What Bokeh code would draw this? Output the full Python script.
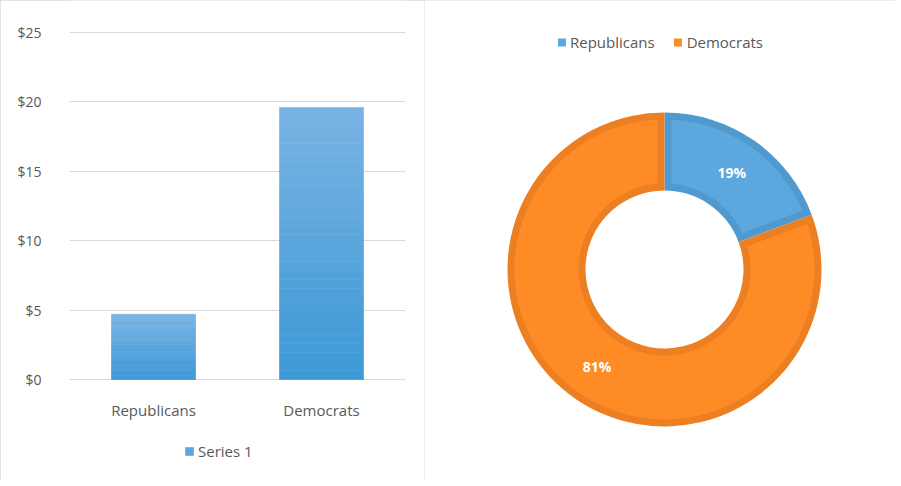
import numpy as np
from bokeh.plotting import figure
from bokeh.models import (ColumnDataSource, Range1d, FactorRange, NumeralTickFormatter,
                          FixedTicker, Legend, LegendItem)
from bokeh.layouts import row
from bokeh.embed import file_html
from bokeh.resources import INLINE
from bokeh.core.properties import value

# ---------------- data ----------------
categories = ["Republicans", "Democrats"]
amounts = [4.7, 19.6]
y_ticks = [0, 5, 10, 15, 20, 25]
series_name = "Series 1"
slice_colors = ["#5BA7DE", "#FF8B26"]
slice_edges = ["#4F99CF", "#EC7F22"]

FONT = "Open Sans"
TXT = "#595959"
GRID = "#D9D9D9"
PANEL_STYLE = {"outline": "1px solid #D9D9D9", "outline-offset": "-1px"}

# ---------------- layout constants (pixels) ----------------
H = 480
W1, W2 = 424, 471
TOP_PX, ZERO_PX = 32, 379          # where $25 and $0 sit from the top of the panel
YMAX = 25
scale = (ZERO_PX - TOP_PX) / YMAX
y_lo = -(H - ZERO_PX) / scale
y_hi = YMAX + TOP_PX / scale

# ---------------- bar chart ----------------
p1 = figure(width=W1, height=H, x_range=FactorRange(*categories), y_range=Range1d(y_lo, y_hi),
            output_backend="svg", toolbar_location=None,
            min_border_left=69, min_border_right=19, min_border_top=0, min_border_bottom=0)
p1.outline_line_color = None
p1.styles = PANEL_STYLE

# gradient bars: thin stacked slices derived from each value
N = 30
top_c = np.array([122, 180, 228])
bot_c = np.array([60, 153, 214])
xs, bots, tops, cols = [], [], [], []
for cat, v in zip(categories, amounts):
    for i in range(N):
        f = (i + 0.5) / N
        c = (bot_c + (top_c - bot_c) * f).astype(int)
        xs.append(cat)
        bots.append(float(v * i / N))
        tops.append(float(v * (i + 1) / N))
        cols.append("#%02x%02x%02x" % tuple(int(k) for k in c))
src = ColumnDataSource(dict(x=xs, bottom=bots, top=tops, color=cols))
bars = p1.vbar(x="x", bottom="bottom", top="top", width=0.5, source=src,
               fill_color="color", line_color="color", line_width=0.6)

p1.yaxis.ticker = FixedTicker(ticks=y_ticks)
p1.yaxis.formatter = NumeralTickFormatter(format="$0")
for ax in (p1.xaxis[0], p1.yaxis[0]):
    ax.axis_line_color = None
    ax.major_tick_line_color = None
    ax.minor_tick_line_color = None
    ax.major_label_text_color = TXT
    ax.major_label_text_font = FONT
p1.yaxis.major_label_text_font_size = "14px"
p1.xaxis.major_label_text_font_size = "15px"
p1.yaxis.major_label_standoff = 22
p1.xaxis.major_label_standoff = 14
p1.xaxis.fixed_location = 0
p1.xgrid.grid_line_color = None
p1.ygrid.grid_line_color = GRID
p1.ygrid.grid_line_width = 1

leg1 = Legend(items=[LegendItem(label=series_name, renderers=[bars], index=N // 2)],
              orientation="horizontal", location=(115, 19),
              glyph_width=10, glyph_height=10, label_standoff=4,
              label_text_font=FONT, label_text_font_size="15px", label_text_color=TXT,
              border_line_color=None, background_fill_alpha=0, margin=0, padding=4)
p1.add_layout(leg1, "center")

# ---------------- donut chart ----------------
cx_px, cy_px = 240, 269  # donut centre inside panel (from left, from top)
p2 = figure(width=W2, height=H, x_range=Range1d(-cx_px, W2 - cx_px),
            y_range=Range1d(-(H - cy_px), cy_px),
            output_backend="svg", toolbar_location=None, min_border=0)
p2.axis.visible = False
p2.grid.visible = False
p2.outline_line_color = None
p2.styles = PANEL_STYLE

R_OUT, R_IN, EDGE = 157.0, 79.0, 7.0
total = sum(amounts)
fracs = [a / total for a in amounts]
starts, ends = [], []
ang = np.pi / 2
for f in fracs:
    starts.append(float(ang - 2 * np.pi * f))
    ends.append(float(ang))
    ang -= 2 * np.pi * f

# dark edge rings (full slice)
p2.annular_wedge(x=0, y=0, inner_radius=R_IN, outer_radius=R_OUT,
                 start_angle=starts, end_angle=ends, color=slice_edges, line_color=None)

# lighter inset fills, offset by EDGE px from every edge
pxs, pys = [], []
for a0, a1 in zip(starts, ends):
    ro, ri = R_OUT - EDGE, R_IN + EDGE
    o0, o1 = a0 + np.arcsin(EDGE / ro), a1 - np.arcsin(EDGE / ro)
    i0, i1 = a0 + np.arcsin(EDGE / ri), a1 - np.arcsin(EDGE / ri)
    t_o = np.linspace(o0, o1, 120)
    t_i = np.linspace(i1, i0, 80)
    pxs.append([float(v) for v in np.concatenate([ro * np.cos(t_o), ri * np.cos(t_i)])])
    pys.append([float(v) for v in np.concatenate([ro * np.sin(t_o), ri * np.sin(t_i)])])
fills = p2.patches(xs=pxs, ys=pys, fill_color=slice_colors, line_color=None)

# labels
mids = [(a0 + a1) / 2 for a0, a1 in zip(starts, ends)]
rm = (R_OUT + R_IN) / 2
p2.text(x=[float(rm * np.cos(m)) for m in mids], y=[float(rm * np.sin(m)) for m in mids],
        text=["%d%%" % round(f * 100) for f in fracs],
        text_font=value(FONT), text_font_style="bold", text_font_size="14px",
        text_color="white", text_align="center", text_baseline="middle")

leg2 = Legend(items=[LegendItem(label=c, renderers=[fills], index=i) for i, c in enumerate(categories)],
              orientation="horizontal", location="top_center",
              glyph_width=10, glyph_height=10, label_standoff=4, spacing=18,
              label_text_font=FONT, label_text_font_size="15px", label_text_color=TXT,
              border_line_color=None, background_fill_alpha=0, margin=32, padding=0)
p2.add_layout(leg2, "center")

layout = row(p1, p2)
open("out.html", "w").write(file_html(layout, INLINE))
